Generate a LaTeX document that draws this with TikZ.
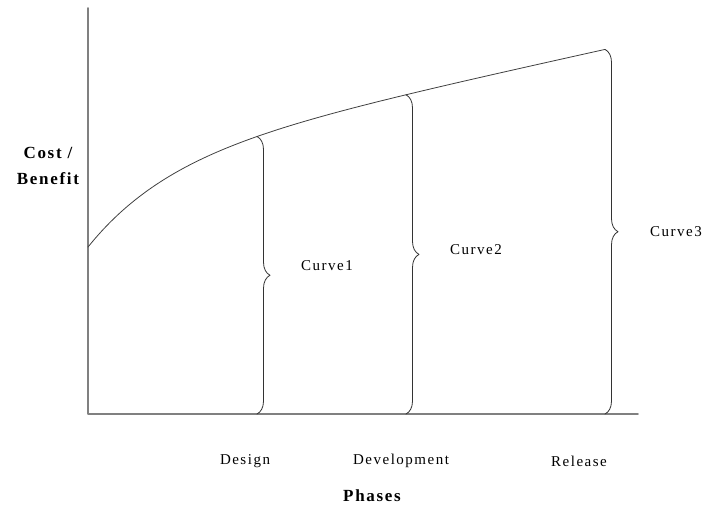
\documentclass[tikz,border=0pt]{standalone}
\usepackage{fontspec}
\setmainfont{Liberation Serif}[LetterSpace=10]
\usetikzlibrary{decorations.pathreplacing}
\tikzset{
	axe/.style={draw=gray, line width=1.8pt},
	accolade/.style={decorate, decoration={brace, amplitude=13pt}, draw=black!80, line width=0.8pt},
	nhan/.style={font=\fontsize{15}{17}\selectfont, inner sep=0pt},
	tieude/.style={font=\fontsize{17}{26}\selectfont\bfseries, inner sep=0pt, align=center}
}
\begin{document}
\begin{tikzpicture}[x=1pt, y=-1pt, line join=round, line cap=round]
	\useasboundingbox (0,0) rectangle (703,512);
	\coordinate (O) at (88,414);
	\coordinate (Y) at (88,8);
	\coordinate (X) at (638,414);
	% diem tren duong cong va tren truc hoanh
	\coordinate (T1) at (257,136.5);
	\coordinate (T2) at (406,94.8);
	\coordinate (T3) at (605,49.4);
	\coordinate (D1) at (257,414);
	\coordinate (D2) at (406,414);
	\coordinate (D3) at (605,414);
	\draw[axe] (Y)--(O)--(X);
	\draw[black!75, line width=0.8pt, domain=0:517, samples=80, smooth] plot ({88+\x},{247-84*(1-exp(-\x/82))-0.22*\x});
	\foreach \dinh/\day in {T1/D1,T2/D2,T3/D3} \draw[accolade] (\dinh)--(\day);
	\node[nhan, anchor=west] (c1) at (301,266) {Curve1};
	\node[nhan, anchor=west] (c2) at (450,250) {Curve2};
	\node[nhan, anchor=west] (c3) at (650,232) {Curve3};
	\node[nhan] (design) at (245,461) {Design};
	\node[nhan] (dev) at (401,461) {Development};
	\node[nhan] (rel) at (579,461) {Release};
	\node[tieude] (phases) at (372,496) {Phases};
	\node[tieude] (cost) at (48,166) {Cost /\\Benefit};
\end{tikzpicture}
\end{document}
